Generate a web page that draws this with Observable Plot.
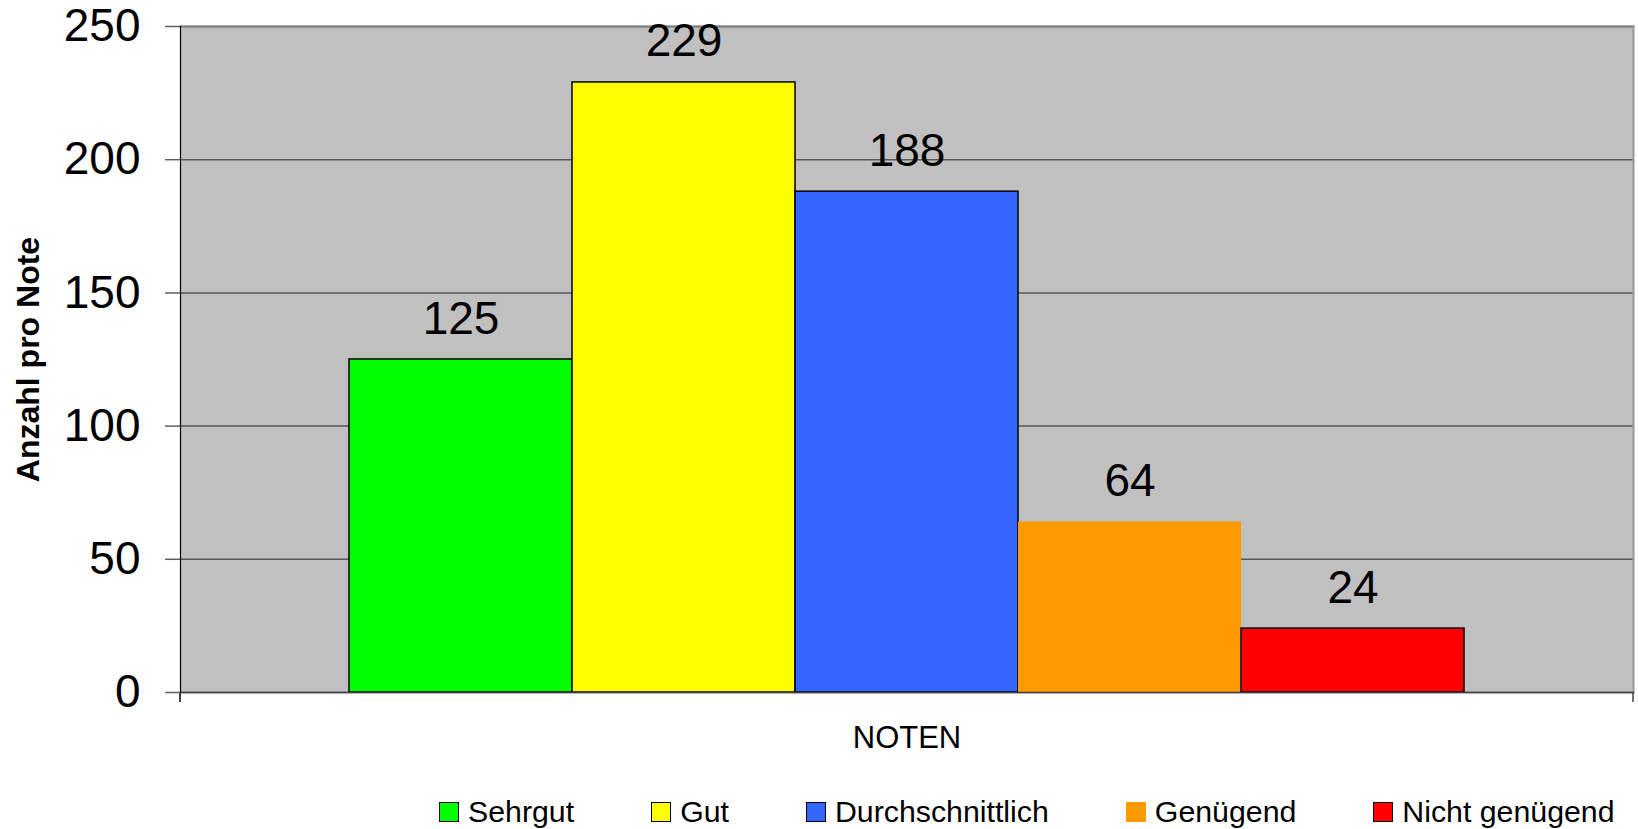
<!DOCTYPE html>
<html>
<head>
<meta charset="utf-8">
<script src="https://cdn.jsdelivr.net/npm/d3@7"></script>
<script src="https://cdn.jsdelivr.net/npm/@observablehq/plot@0.6"></script>
<style>
  html, body { margin: 0; padding: 0; background: #fff; }
  body { font-family: "Liberation Sans", Arial, sans-serif; width: 1638px; }
  #legend {
    display: flex; align-items: center; gap: 77px;
    box-sizing: border-box; height: 44px;
    margin-left: 439px;
    font-size: 30.3px; color: #000;
  }
  #legend .item { display: inline-flex; align-items: center; white-space: nowrap; }
  #legend .sw { width: 20px; height: 20px; box-sizing: border-box; margin-right: 9px; }
</style>
</head>
<body>
<div id="chart"></div>
<div id="legend"></div>
<script>
const categories = ["Sehrgut", "Gut", "Durchschnittlich", "Genügend", "Nicht genügend"];
const counts = [125, 229, 188, 64, 24];
const colors = ["#00FF00", "#FFFF00", "#3366FF", "#FF9900", "#FF0000"];
const outlined = [true, true, true, false, true];
const yTicks = [0, 50, 100, 150, 200, 250];
const xTitle = "NOTEN";
const yTitle = "Anzahl pro Note";

const data = categories.map((c, i) => ({cat: c, n: counts[i], color: colors[i], stroke: outlined[i] ? "#000" : "none"}));

const edgeTicks = (index, scales, values, dims) => {
  const g = d3.create("svg:g").attr("stroke-width", 1.5);
  const yb = dims.height - dims.marginBottom;
  g.append("line").attr("x1", dims.marginLeft).attr("x2", dims.marginLeft)
    .attr("y1", yb).attr("y2", yb + 10).attr("stroke", "#000");
  g.append("line").attr("x1", dims.width - dims.marginRight).attr("x2", dims.width - dims.marginRight)
    .attr("y1", yb).attr("y2", yb + 10).attr("stroke", "#404040");
  return g.node();
};

const chart = Plot.plot({
  width: 1638,
  height: 790,
  marginLeft: 180,
  marginRight: 5,
  marginTop: 26,
  marginBottom: 98,
  style: {fontFamily: "'Liberation Sans', Arial, sans-serif", background: "#fff", color: "#000", overflow: "visible"},
  x: {domain: categories, paddingInner: 0, paddingOuter: 0.75, axis: null},
  y: {domain: [0, 250], axis: null},
  marks: [
    Plot.frame({fill: "#C0C0C0", stroke: "none"}),
    Plot.gridY(yTicks, {stroke: "#585858", strokeOpacity: 1, strokeWidth: 1.5}),
    Plot.frame({anchor: "top", stroke: "#808080", strokeWidth: 2}),
    Plot.frame({anchor: "right", stroke: "#989898", strokeWidth: 2}),
    Plot.barY(data, {x: "cat", y: "n", fill: "color", stroke: "stroke", strokeWidth: 1.5, insetLeft: 0, insetRight: 0}),
    Plot.frame({anchor: "bottom", stroke: "#404040", strokeWidth: 1.5}),
    Plot.frame({anchor: "left", stroke: "#000", strokeWidth: 1.2}),
    edgeTicks,
    Plot.axisY({ticks: yTicks, tickSize: 15, tickPadding: 25, fontSize: 46, color: "#000", stroke: "#606060", strokeWidth: 1.5, label: null}),
    Plot.text(data, {x: "cat", y: "n", text: d => String(d.n), dy: -26, lineAnchor: "bottom", fontSize: 46, fill: "#000"}),
    Plot.text([xTitle], {frameAnchor: "bottom", dy: 46, lineAnchor: "middle", fontSize: 31, fill: "#000"}),
    Plot.text([yTitle], {frameAnchor: "left", dx: -152, rotate: -90, textAnchor: "middle", lineAnchor: "middle", fontSize: 32, fontWeight: "bold", fill: "#000"})
  ]
});
document.getElementById("chart").appendChild(chart);

const legend = d3.select("#legend");
categories.forEach((c, i) => {
  const it = legend.append("span").attr("class", "item");
  it.append("span").attr("class", "sw")
    .style("background", colors[i])
    .style("border", outlined[i] ? "1.5px solid #000" : "none");
  it.append("span").text(c);
});
</script>
</body>
</html>
